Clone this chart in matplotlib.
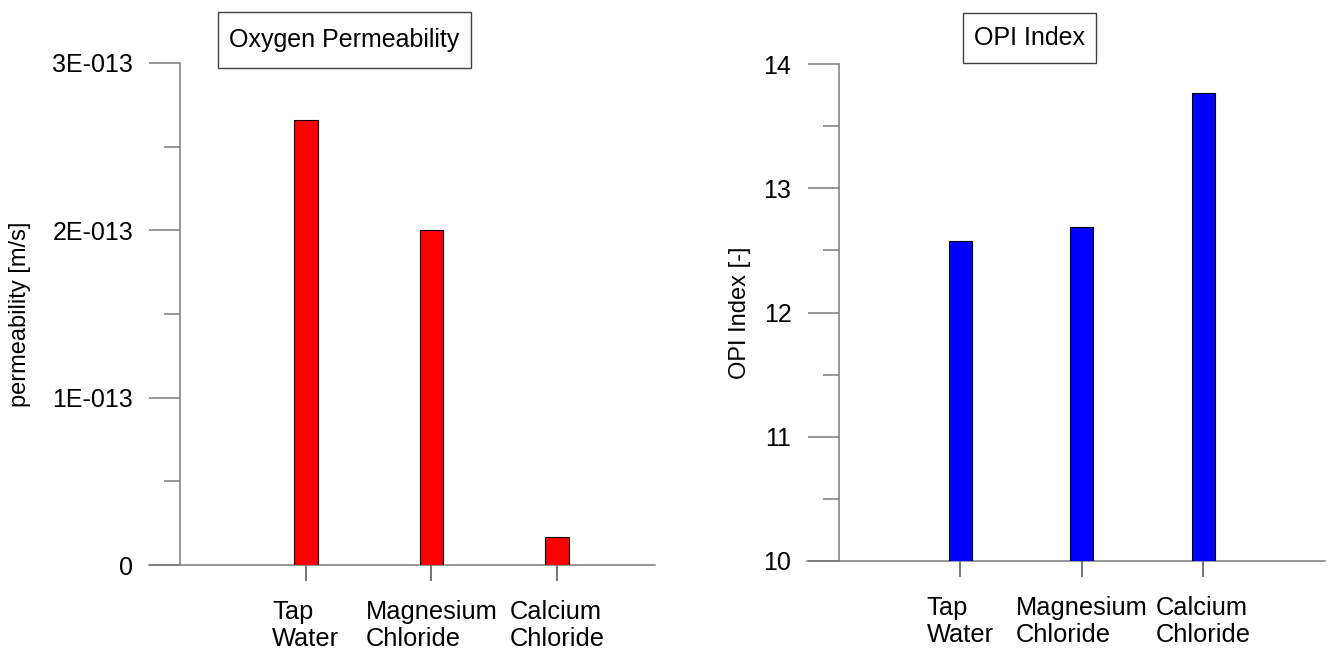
import math
import matplotlib
matplotlib.use("Agg")
import matplotlib.pyplot as plt
from matplotlib.patches import Rectangle
from matplotlib.ticker import FuncFormatter, MultipleLocator

# Data
categories = ["Tap\nWater", "Magnesium\nChloride", "Calcium\nChloride"]
permeability = [2.66e-13, 2.0e-13, 0.166e-13]
opi_index = [12.58, 12.69, 13.77]

plt.rcParams["font.family"] = ["Liberation Sans", "DejaVu Sans"]

spine_col = "#7a7a7a"


def sci_fmt(v, pos):
    # mimic "3E-013" style labels
    if abs(v) < 1e-20:
        return "0"
    exp = math.floor(math.log10(abs(v)) + 1e-9)
    m = round(v / 10 ** exp, 6)
    return f"{m:g}E{exp:+04d}".replace("E+", "E")


def style_axes(ax, xmax, xmin):
    x = list(range(1, len(categories) + 1))
    ax.set_xlim(xmin, xmax)
    ax.spines["top"].set_visible(False)
    ax.spines["right"].set_visible(False)
    ax.spines["left"].set_position(("data", 0))
    for s in ("left", "bottom"):
        ax.spines[s].set_color(spine_col)
        ax.spines[s].set_linewidth(1.1)
    ax.set_xticks(x)
    ax.set_xticklabels(categories, multialignment="left", linespacing=1.15)
    ax.tick_params(axis="x", length=11.5, width=1.1, color="#505050",
                   pad=14, labelsize=18.3)
    ax.tick_params(axis="y", which="major", length=22.5, width=1.1,
                   color=spine_col, pad=11.5, labelsize=18)
    ax.tick_params(axis="y", which="minor", length=11.5, width=1.1,
                   color=spine_col)


def boxed_title(fig, x, y, label, padx=11, pady=16):
    t = fig.text(x, y, label, fontsize=18, ha="center", va="center")
    fig.canvas.draw()
    bb = t.get_window_extent()
    rect = Rectangle((bb.x0 - padx, bb.y0 - pady), bb.width + 2 * padx,
                     bb.height + 2 * pady, transform=None, fill=False,
                     edgecolor="#404040", linewidth=1.0)
    fig.patches.append(rect)


fig = plt.figure(figsize=(13.35, 6.52), dpi=100)

# Left panel: oxygen permeability
ax1 = fig.add_axes([0.1116, 0.1334, 0.379, 0.770])
ax1.bar(range(1, 4), permeability, width=0.19, color="#ff0000",
        edgecolor="black", linewidth=0.8, zorder=3)
ax1.set_ylim(0, 3e-13)
ax1.yaxis.set_major_locator(MultipleLocator(1e-13))
ax1.yaxis.set_minor_locator(MultipleLocator(0.5e-13))
ax1.yaxis.set_major_formatter(FuncFormatter(sci_fmt))
ax1.yaxis.get_offset_text().set_visible(False)
style_axes(ax1, 3.78, -0.25)
ax1.set_ylabel("permeability [m/s]", fontsize=17)
ax1.yaxis.set_label_coords(-0.233, 0.5)

# Right panel: OPI index
ax2 = fig.add_axes([0.6045, 0.1396, 0.388, 0.762])
ax2.bar(range(1, 4), opi_index, width=0.19, color="#0000ff",
        edgecolor="black", linewidth=0.8, zorder=3)
ax2.set_ylim(10, 14)
ax2.yaxis.set_major_locator(MultipleLocator(1))
ax2.yaxis.set_minor_locator(MultipleLocator(0.5))
style_axes(ax2, 4.0, -0.26)
ax2.set_ylabel("OPI Index [-]", fontsize=17)
ax2.yaxis.set_label_coords(-0.108, 0.5)

# Boxed titles
boxed_title(fig, 0.258, 0.939, "Oxygen Permeability")
boxed_title(fig, 0.771, 0.941, "OPI Index", pady=13)

plt.savefig("out.png", dpi=100)
plt.close()
